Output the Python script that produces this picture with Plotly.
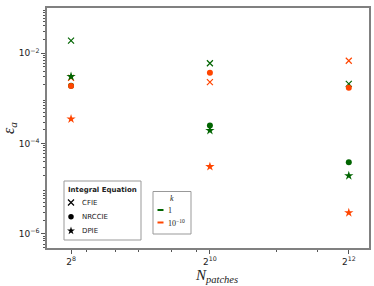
import plotly.graph_objects as go

n_patches = [256, 1024, 4096]
x_ticklabels = ["2<sup>8</sup>", "2<sup>10</sup>", "2<sup>12</sup>"]
y_tickvals = [1e-6, 1e-4, 1e-2]
y_ticklabels = ["10<sup>−6</sup>", "10<sup>−4</sup>", "10<sup>−2</sup>"]

cfie_k1 = [1.9e-2, 6.0e-3, 2.1e-3]
cfie_k10 = [2.85e-3, 2.3e-3, 6.8e-3]
nrccie_k1 = [1.9e-3, 2.5e-4, 3.85e-5]
nrccie_k10 = [1.87e-3, 3.7e-3, 1.72e-3]
dpie_k1 = [3.05e-3, 1.95e-4, 1.95e-5]
dpie_k10 = [3.5e-4, 3.1e-5, 2.95e-6]

equation_names = ["CFIE", "NRCCIE", "DPIE"]
k_labels = ["1", "10<sup>−10</sup>"]

GREEN = "#006400"
ORANGE = "#FF4500"
SYMBOLS = {"CFIE": "x-thin-open", "NRCCIE": "circle", "DPIE": "star"}
SIZES = {"CFIE": 6, "NRCCIE": 6, "DPIE": 7}
LEG_SIZES = {"CFIE": 6, "NRCCIE": 5.5, "DPIE": 6}
LINEW = {"CFIE": 1.2, "NRCCIE": 0, "DPIE": 0}

fig = go.Figure()

series = [
    ("CFIE", cfie_k1, GREEN),
    ("CFIE", cfie_k10, ORANGE),
    ("NRCCIE", nrccie_k1, GREEN),
    ("NRCCIE", nrccie_k10, ORANGE),
    ("DPIE", dpie_k1, GREEN),
    ("DPIE", dpie_k10, ORANGE),
]
for eq, vals, col in series:
    fig.add_trace(go.Scatter(
        x=n_patches, y=vals, mode="markers", showlegend=False, name=eq,
        marker=dict(symbol=SYMBOLS[eq], size=SIZES[eq], color=col,
                    line=dict(color=col, width=LINEW[eq])),
    ))

# ---- manual legends (pixel layout converted to paper coords) ----
L, R, T, B = 47, 369, 8, 248
def px(X):
    return (X - L) / (R - L)
def py(Y):
    return (B - Y) / (B - T)

legend_rows = [202.5, 216.7, 230.8]
for e, Y in zip(equation_names, legend_rows):
    fig.add_trace(go.Scatter(
        x=[px(71)], y=[py(Y)], mode="markers",
        xaxis="x2", yaxis="y2", showlegend=False, hoverinfo="skip",
        marker=dict(symbol=SYMBOLS[e], size=LEG_SIZES[e], color="black",
                    line=dict(color="black", width=LINEW[e])),
    ))

shapes = [
    dict(type="rect", xref="paper", yref="paper", x0=px(64), x1=px(141), y0=py(240), y1=py(181),
         line=dict(color="#999", width=1), fillcolor="white", layer="below"),
    dict(type="rect", xref="paper", yref="paper", x0=px(153), x1=px(191), y0=py(234), y1=py(191.5),
         line=dict(color="#999", width=1), fillcolor="white", layer="below"),
]
for col, Y in [(GREEN, 210), (ORANGE, 222.5)]:
    shapes.append(dict(type="line", xref="paper", yref="paper", x0=px(157.5), x1=px(163.5), y0=py(Y), y1=py(Y),
                       line=dict(color=col, width=2), layer="above"))

annotations = [
    dict(text="<b>Integral Equation</b>", x=px(102.5), y=py(190), xref="paper", yref="paper",
         showarrow=False, xanchor="center", yanchor="middle", font=dict(family="DejaVu Sans", size=7, color="#222")),
    dict(text="<i>k</i>", x=px(172), y=py(198.5), xref="paper", yref="paper",
         showarrow=False, xanchor="center", yanchor="middle", font=dict(family="Liberation Serif", size=8, color="#222")),
    dict(text="<i>N<sub>patches</sub></i>", x=px(216), y=py(276), xref="paper", yref="paper",
         showarrow=False, xanchor="center", yanchor="middle", font=dict(family="Liberation Serif", size=15, color="#222")),
]
for name, Y in zip(equation_names, legend_rows):
    annotations.append(dict(text=name, x=px(80), y=py(Y), xref="paper", yref="paper", showarrow=False,
                            xanchor="left", yanchor="middle", font=dict(family="DejaVu Sans", size=7, color="#222")))
for name, Y in zip(k_labels, [210, 222.5]):
    annotations.append(dict(text=name, x=px(166), y=py(Y), xref="paper", yref="paper", showarrow=False,
                            xanchor="left", yanchor="middle", font=dict(family="Liberation Serif", size=8, color="#222")))

y_minor = [m * 10 ** e for e in range(-7, 0) for m in range(2, 10)]
x_minor = [300, 400, 500, 700, 900, 2000, 3000]

axis_common = dict(showline=True, linecolor="#808080", linewidth=1.5, mirror=True,
                   ticks="outside", tickcolor="#555", ticklen=4, tickwidth=1,
                   showgrid=False, zeroline=False,
                   tickfont=dict(family="DejaVu Sans", size=9, color="#222"))

fig.update_layout(
    width=374, height=286,
    margin=dict(l=47, r=5, t=8, b=38, autoexpand=False),
    paper_bgcolor="white", plot_bgcolor="white",
    showlegend=False,
    xaxis=dict(type="log", range=[2.304, 3.700], tickvals=n_patches, ticktext=x_ticklabels,
               minor=dict(tickvals=x_minor, ticks="outside", ticklen=2, tickcolor="#555"),
               automargin=False, **axis_common),
    yaxis=dict(type="log", range=[-6.31, -1.0], tickvals=y_tickvals, ticktext=y_ticklabels,
               minor=dict(tickvals=y_minor, ticks="outside", ticklen=2, tickcolor="#555"),
               title=dict(text="<i>ε<sub>a</sub></i>", font=dict(family="Liberation Serif", size=16, color="#222"), standoff=2),
               automargin=False, **axis_common),
    xaxis2=dict(overlaying="x", range=[0, 1], visible=False, fixedrange=True),
    yaxis2=dict(overlaying="y", range=[0, 1], visible=False, fixedrange=True),
    shapes=shapes,
    annotations=annotations,
)

fig.write_html("out.html", config={"displayModeBar": False},
               post_script="document.body.style.margin='0';")
